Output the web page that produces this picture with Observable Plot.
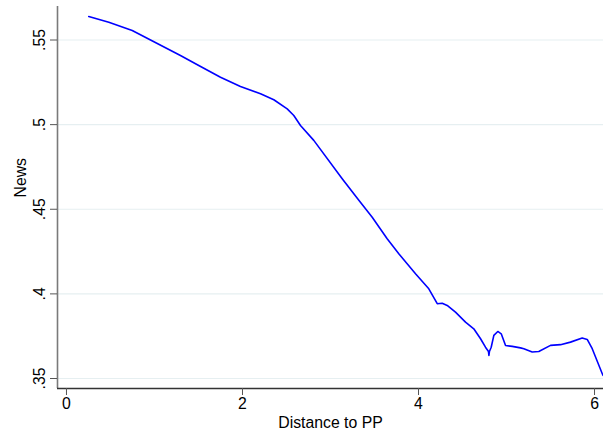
<!DOCTYPE html>
<html>
<head>
<meta charset="utf-8">
<script src="https://cdn.jsdelivr.net/npm/d3@7"></script>
<script src="https://cdn.jsdelivr.net/npm/@observablehq/plot@0.6"></script>
<style>
  html, body { margin: 0; padding: 0; background: #fff; }
  #chart svg { display: block; }
</style>
</head>
<body>
<div id="chart"></div>
<script>
const distance = [0.253, 0.481, 0.747, 1.295, 1.503, 1.750, 1.977, 2.205, 2.356, 2.508, 2.583, 2.659, 2.810, 3.133, 3.322, 3.474, 3.644, 3.776, 3.966, 4.117, 4.213, 4.269, 4.326, 4.420, 4.534, 4.628, 4.705, 4.761, 4.795, 4.800, 4.806, 4.826, 4.856, 4.901, 4.940, 4.989, 5.065, 5.159, 5.197, 5.292, 5.367, 5.500, 5.614, 5.727, 5.860, 5.917, 5.974, 6.088, 6.097];
const news = [0.5639, 0.5605, 0.5556, 0.5408, 0.5349, 0.5280, 0.5225, 0.5182, 0.5147, 0.5093, 0.5054, 0.4995, 0.4907, 0.4680, 0.4553, 0.4453, 0.4326, 0.4237, 0.4119, 0.4030, 0.3942, 0.3945, 0.3932, 0.3892, 0.3833, 0.3794, 0.3735, 0.3685, 0.3660, 0.3636, 0.3660, 0.3685, 0.3755, 0.3778, 0.3764, 0.3695, 0.3690, 0.3681, 0.3676, 0.3657, 0.3660, 0.3696, 0.3700, 0.3715, 0.3739, 0.3731, 0.3676, 0.3528, 0.3518];

const xTicks = [0, 2, 4, 6];
const xTickLabels = ["0", "2", "4", "6"];
const yTicks = [0.35, 0.4, 0.45, 0.5, 0.55];
const yTickLabels = [".35", ".4", ".45", ".5", ".55"];
const xTitle = "Distance to PP";
const yTitle = "News";

const data = distance.map((d, i) => ({distance: d, news: news[i]}));
const yLabelData = yTicks.map((v, i) => ({v, label: yTickLabels[i]}));

const xDomain = [-0.102, 6.102];
const yDomain = [0.3441, 0.5698];
const font = "'Liberation Sans', Arial, Helvetica, sans-serif";
const fs = 15.8;

const chart = Plot.plot({
  width: 603,
  height: 436,
  marginLeft: 57,
  marginRight: 0,
  marginTop: 6,
  marginBottom: 48,
  style: {fontFamily: font, fontSize: fs + "px", background: "#fff", color: "#000"},
  x: {domain: xDomain},
  y: {domain: yDomain},
  marks: [
    Plot.gridY(yTicks, {stroke: "#e6eff1", strokeOpacity: 1, strokeWidth: 1.2}),
    Plot.line(data, {x: "distance", y: "news", stroke: "#0000ff", strokeWidth: 1.6}),
    Plot.ruleX([xDomain[0]], {stroke: "#7a7a7a", strokeWidth: 1.6}),
    Plot.ruleY([yDomain[0]], {stroke: "#333", strokeWidth: 1.5}),
    Plot.axisY(yTicks, {tickSize: 7, stroke: "#555", tickFormat: () => "", label: null}),
    Plot.text(yLabelData, {x: () => xDomain[0], y: "v", text: "label", rotate: -90, dx: -18, textAnchor: "middle", lineAnchor: "middle", fontSize: fs, fill: "#000"}),
    Plot.axisX(xTicks, {tickSize: 7, stroke: "#555", tickPadding: 2, fontSize: fs, tickFormat: (d) => xTickLabels[xTicks.indexOf(d)], label: null}),
    Plot.text([xTitle], {frameAnchor: "bottom", dy: 34, fontSize: fs, lineAnchor: "middle", fill: "#000"}),
    Plot.text([yTitle], {frameAnchor: "left", dx: -37, rotate: -90, fontSize: fs, lineAnchor: "middle", fill: "#000"})
  ]
});
document.getElementById("chart").appendChild(chart);
</script>
</body>
</html>
